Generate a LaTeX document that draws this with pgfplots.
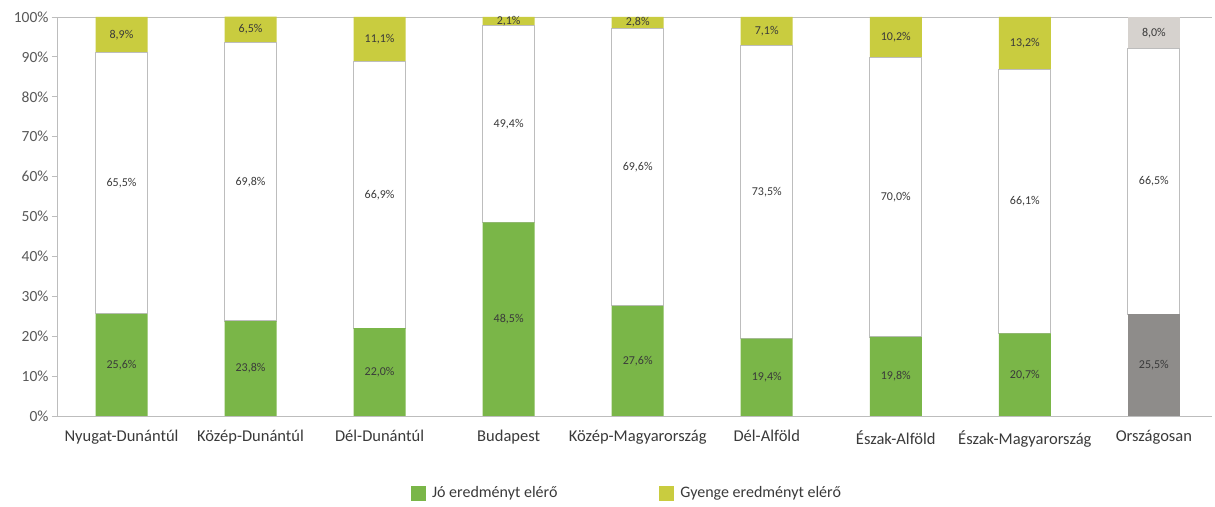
\documentclass[border=0pt]{standalone}
\usepackage{fontspec}
\setmainfont{Carlito}
\usepackage{pgfplots}
\usepackage{pgfplotstable}
\pgfplotsset{compat=1.18}
\definecolor{cgreen}{HTML}{7AB648}
\definecolor{cyellow}{HTML}{C9CC3F}
\definecolor{cdgray}{HTML}{8E8C8A}
\definecolor{clgray}{HTML}{D6D2CE}
\definecolor{cborder}{HTML}{BDBDBD}
\definecolor{ctext}{HTML}{3A3A3A}
\definecolor{cticks}{HTML}{595959}

% bars: g = Jó (green), dg = Országosan Jó (dark grey), w = middle (white),
% y = Gyenge (yellow), lg = Országosan Gyenge (light grey)
\pgfplotstableread{
x g dg w y lg
0 25.6 0 65.5 8.9 0
1 23.8 0 69.8 6.5 0
2 22.0 0 66.9 11.1 0
3 48.5 0 49.4 2.1 0
4 27.6 0 69.6 2.8 0
5 19.4 0 73.5 7.1 0
6 19.8 0 70.0 10.2 0
7 20.7 0 66.1 13.2 0
8 0 25.5 66.5 0 8.0
}\bars

\pgfplotstableread{
x g w y
0 25.6 65.5 8.9
1 23.8 69.8 6.5
2 22.0 66.9 11.1
3 48.5 49.4 2.1
4 27.6 69.6 2.8
5 19.4 73.5 7.1
6 19.8 70.0 10.2
7 20.7 66.1 13.2
8 25.5 66.5 8.0
}\labs

\begin{document}
\begin{tikzpicture}
\useasboundingbox[fill=white] (0,0) rectangle (1215pt,506pt);
\begin{axis}[
  at={(57pt,90pt)}, anchor=south west,
  scale only axis, width=1155pt, height=399pt,
  ybar stacked, bar width=52pt,
  xmin=-0.5, xmax=8.45, ymin=0, ymax=100,
  axis x line*=bottom, axis y line*=left,
  axis line style={draw=cborder, line width=0.8pt, -},
  xtick={0,...,8},
  xticklabels={Nyugat-Dunántúl,Közép-Dunántúl,Dél-Dunántúl,Budapest,Közép-Magyarország,Dél-Alföld,Észak-Alföld,Észak-Magyarország,Országosan},
  xtick style={draw=none},
  xticklabel style={font=\fontsize{16.5}{19}\selectfont, text=ctext, yshift=-6pt},
  ytick={0,10,...,100},
  yticklabels={0\%,10\%,20\%,30\%,40\%,50\%,60\%,70\%,80\%,90\%,100\%},
  yticklabel style={font=\fontsize{15.5}{18}\selectfont, text=cticks},
  ytick style={draw=cborder, line width=0.8pt},
  major tick length=5pt, tick align=outside,
  extra y ticks={100}, extra y tick labels={},
  extra y tick style={grid=major, major grid style={draw=cborder, line width=0.8pt}},
]
\addplot[fill=cgreen, draw=none] table[x=x, y=g] {\bars};
\addplot[fill=cdgray, draw=none] table[x=x, y=dg] {\bars};
\addplot[fill=white, draw=cborder, line width=1.1pt] table[x=x, y=w] {\bars};
\addplot[fill=cyellow, draw=none] table[x=x, y=y] {\bars};
\addplot[fill=clgray, draw=none] table[x=x, y=lg] {\bars};
\end{axis}
\begin{axis}[
  at={(57pt,90pt)}, anchor=south west,
  scale only axis, width=1155pt, height=399pt,
  xmin=-0.5, xmax=8.45, ymin=0, ymax=100,
  hide axis,
  /pgf/number format/.cd, fixed, fixed zerofill, precision=1, use comma, assume math mode=true,
  /pgfplots/.cd,
  nodes near coords={\pgfmathprintnumber{\pgfplotspointmeta}\%},
  every node near coord/.append style={anchor=center, font=\fontsize{12}{14}\selectfont, text=ctext},
  legend style={at={(0.4935,-0.193)}, anchor=center, draw=none, fill=none,
    font=\fontsize{16}{19}\selectfont, text=ctext,
    /tikz/every odd column/.append style={column sep=4pt},
    /tikz/every even column/.append style={column sep=100pt}},
  legend columns=2,
  legend image code/.code={\fill[#1, draw=none] (0pt,-7.5pt) rectangle (15pt,7.5pt);},
]
\addlegendimage{fill=cgreen, draw=none}
\addlegendentry{Jó eredményt elérő}
\addlegendimage{fill=cyellow, draw=none}
\addlegendentry{Gyenge eredményt elérő}
\addplot[forget plot, only marks, mark=none, point meta=\thisrow{g}] table[x=x, y expr=\thisrow{g}/2] {\labs};
\addplot[forget plot, only marks, mark=none, point meta=\thisrow{w}] table[x=x, y expr=\thisrow{g}+\thisrow{w}/2] {\labs};
\addplot[forget plot, only marks, mark=none, point meta=\thisrow{y}] table[x=x, y expr=\thisrow{g}+\thisrow{w}+\thisrow{y}/2] {\labs};
\end{axis}
\end{tikzpicture}
\end{document}
